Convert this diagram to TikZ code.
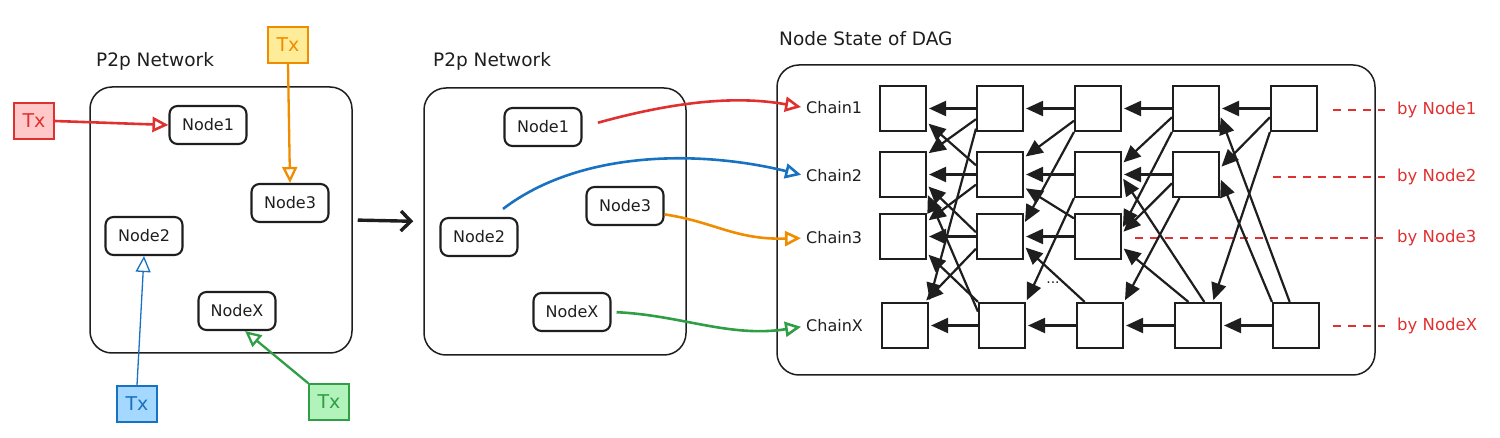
\documentclass[tikz,border=0pt]{standalone}
\usepackage{fontspec}
\setmainfont{DejaVu Sans}
\usetikzlibrary{arrows.meta,calc}
\definecolor{ink}{HTML}{1E1E1E}
\definecolor{rd}{HTML}{E03131}
\definecolor{rdf}{HTML}{FFC9C9}
\definecolor{og}{HTML}{F08C00}
\definecolor{ogf}{HTML}{FFEC99}
\definecolor{bl}{HTML}{1971C2}
\definecolor{blf}{HTML}{A5D8FF}
\definecolor{gn}{HTML}{2F9E44}
\definecolor{gnf}{HTML}{B2F2BB}
\begin{document}
\begin{tikzpicture}[x=1pt,y=-1pt,
 panel/.style={draw=ink,line width=1.5pt,rounded corners=22pt,inner sep=0pt},
 netnode/.style={draw=ink,line width=2.1pt,rounded corners=8pt,minimum width=77pt,minimum height=38pt,font=\fontsize{16}{19}\selectfont,text=ink,inner sep=0pt},
 txbox/.style={line width=1.6pt,minimum width=40pt,minimum height=36pt,font=\fontsize{19}{22}\selectfont,inner sep=0pt},
 title/.style={anchor=west,font=\fontsize{18.5}{22}\selectfont,text=ink,inner sep=0pt},
 chain/.style={anchor=west,font=\fontsize{16}{19}\selectfont,text=ink,inner sep=0pt},
 bylabel/.style={anchor=west,font=\fontsize{16.5}{19}\selectfont,text=rd,inner sep=0pt},
 dag/.style={draw=ink,line width=2.1pt,minimum width=46pt,minimum height=45pt,inner sep=0pt},
 dagarrow/.style={draw=ink,line width=2.2pt,-{Triangle[length=17pt,width=15pt]},shorten >=2pt},
 openarrow/.style={line width=2.3pt,-{Triangle[open,length=16pt,width=15pt]}},
 reddash/.style={draw=rd,line width=1.4pt,dash pattern=on 8pt off 7pt},
]
\useasboundingbox (0,0) rectangle (1500,438);

% ---------- left panel ----------
\node[title] (t1) at (96,61) {P2p Network};
\node[panel,minimum width=262pt,minimum height=266pt] (lp) at (221,220) {};
\node[netnode] (L1) at (208,125) {Node1};
\node[netnode] (L3) at (290,203) {Node3};
\node[netnode] (L2) at (144,236) {Node2};
\node[netnode] (LX) at (237,311) {NodeX};
\node[txbox,draw=rd,fill=rdf,text=rd] (txr) at (34,121) {Tx};
\node[txbox,draw=og,fill=ogf,text=og] (txo) at (288,45) {Tx};
\node[txbox,draw=bl,fill=blf,text=bl] (txb) at (137,404) {Tx};
\node[txbox,draw=gn,fill=gnf,text=gn] (txg) at (329,402) {Tx};
\draw[openarrow,rd,line width=2.6pt] (txr.east) -- (L1.west);
\draw[openarrow,og] (txo.south) -- (L3.north);
\draw[openarrow,bl,line width=1.3pt] (txb.north) -- (L2.south);
\draw[openarrow,gn] (txg.north west) -- (LX.-68);

% ---------- middle panel ----------
\node[title] (t2) at (433,61) {P2p Network};
\node[panel,minimum width=262pt,minimum height=267pt] (mp) at (555,221.5) {};
\node[netnode] (M1) at (543,127) {Node1};
\node[netnode] (M3) at (625,206) {Node3};
\node[netnode] (M2) at (479,237) {Node2};
\node[netnode] (MX) at (572,312) {NodeX};
\draw[ink,line width=3.4pt,-{Straight Barb[length=10pt,width=20pt]},shorten <=5pt,shorten >=10pt] (lp.east) -- (mp.west);

% ---------- right panel ----------
\node[title] (t3) at (779,39) {Node State of DAG};
\node[panel,minimum width=598pt,minimum height=310pt] (rp) at (1076,220) {};
\node[chain] (C1) at (806,108) {Chain1};
\node[chain] (C2) at (806,176) {Chain2};
\node[chain] (C3) at (806,238) {Chain3};
\node[chain] (CX) at (806,326) {ChainX};

\draw[openarrow,rd,line width=2.6pt,shorten <=16pt,shorten >=5pt] (M1.east) .. controls (680,100) and (740,96) .. (C1.west);
\draw[openarrow,bl,line width=2.6pt,shorten >=5pt] ($(M2.north)+(24,-8)$) .. controls (580,150) and (700,150) .. (C2.west);
\draw[openarrow,og,line width=2.6pt,shorten >=5pt] (M3.-12) .. controls (715,222) and (735,240) .. (C3.west);
\draw[openarrow,gn,line width=2.6pt,shorten <=5pt,shorten >=5pt] (MX.east) .. controls (680,315) and (730,338) .. (CX.west);

% DAG boxes
\node[dag] (b11) at (903,108.5) {};
\node[dag] (b12) at (1000,108.5) {};
\node[dag] (b13) at (1098,108.5) {};
\node[dag] (b14) at (1196,108.5) {};
\node[dag] (b15) at (1294,108.5) {};
\node[dag] (b21) at (903,174.5) {};
\node[dag] (b22) at (1000,174.5) {};
\node[dag] (b23) at (1098,174.5) {};
\node[dag] (b24) at (1196,174.5) {};
\node[dag] (b31) at (903,236.5) {};
\node[dag] (b32) at (1000,236.5) {};
\node[dag] (b33) at (1098,236.5) {};
\node[dag] (bx1) at (905,325.5) {};
\node[dag] (bx2) at (1002,325.5) {};
\node[dag] (bx3) at (1100,325.5) {};
\node[dag] (bx4) at (1198,325.5) {};
\node[dag] (bx5) at (1296,325.5) {};
\node[font=\fontsize{14}{16}\selectfont,text=ink,inner sep=0pt] (dots) at (1053,283) {...};

% red dashed markers
\node[bylabel] (by1) at (1397,110) {by Node1};
\node[bylabel] (by2) at (1397,177) {by Node2};
\node[bylabel] (by3) at (1397,238) {by Node3};
\node[bylabel] (byx) at (1397,326) {by NodeX};
\coordinate (d1) at (1333,110);
\coordinate (d2) at (1273,177);
\coordinate (d3) at (1135,238);
\coordinate (dx) at (1333,326);
\draw[reddash,shorten >=12pt] (d1) -- (by1.west);
\draw[reddash,shorten >=12pt] (d2) -- (by2.west);
\draw[reddash,shorten >=12pt] (d3) -- (by3.west);
\draw[reddash,shorten >=12pt] (dx) -- (byx.west);

% horizontal DAG arrows
\draw[dagarrow] (b12.west) -- (b11.east);
\draw[dagarrow] (b13.west) -- (b12.east);
\draw[dagarrow] (b14.west) -- (b13.east);
\draw[dagarrow] (b15.west) -- (b14.east);
\draw[dagarrow] (b22.west) -- (b21.east);
\draw[dagarrow] (b23.west) -- (b22.east);
\draw[dagarrow] (b24.west) -- (b23.east);
\draw[dagarrow] (b32.west) -- (b31.east);
\draw[dagarrow] (b33.west) -- (b32.east);
\draw[dagarrow] (bx2.west) -- (bx1.east);
\draw[dagarrow] (bx3.west) -- (bx2.east);
\draw[dagarrow] (bx4.west) -- (bx3.east);
\draw[dagarrow] (bx5.west) -- (bx4.east);

% diagonal DAG arrows: column 2 -> column 1
\draw[dagarrow] (b12.204) -- (b21.40);
\draw[dagarrow] (b12.220) -- (bx1.north east);
\draw[dagarrow] (b22.159) -- (b11.-30);
\draw[dagarrow] (b22.203) -- (b31.32);
\draw[dagarrow] (b32.170) -- (b21.-24);
\draw[dagarrow] (b32.207) -- (bx1.50);
\draw[dagarrow] (bx2.north west) -- (b31.-35);
\draw[dagarrow] (bx2.150) -- (b21.-38);
% column 3 -> column 2
\draw[dagarrow] (b13.207) -- (b22.35);
\draw[dagarrow] (b13.south west) -- (b32.28);
\draw[dagarrow] (b33.143) -- (b22.-28);
\draw[dagarrow] (b23.south west) -- (bx2.north east);
\draw[dagarrow] (bx3.123) -- (b32.-22);
% column 4 -> column 3
\draw[dagarrow] (b14.200) -- (b23.24);
\draw[dagarrow] (b14.south west) -- (b33.18);
\draw[dagarrow] (b24.200) -- (b33.8);
\draw[dagarrow] (b24.235) -- (bx3.north east);
\draw[dagarrow] (bx4.75) -- (b23.-6);
\draw[dagarrow] (bx4.112) -- (b33.-24);
% column 5 -> column 4
\draw[dagarrow] (b15.200) -- (b24.15);
\draw[dagarrow] (b15.south west) -- (bx4.58);
\draw[dagarrow] (bx5.105) -- (b14.-16);
\draw[dagarrow] (bx5.north west) -- (b24.-8);
\end{tikzpicture}
\end{document}
